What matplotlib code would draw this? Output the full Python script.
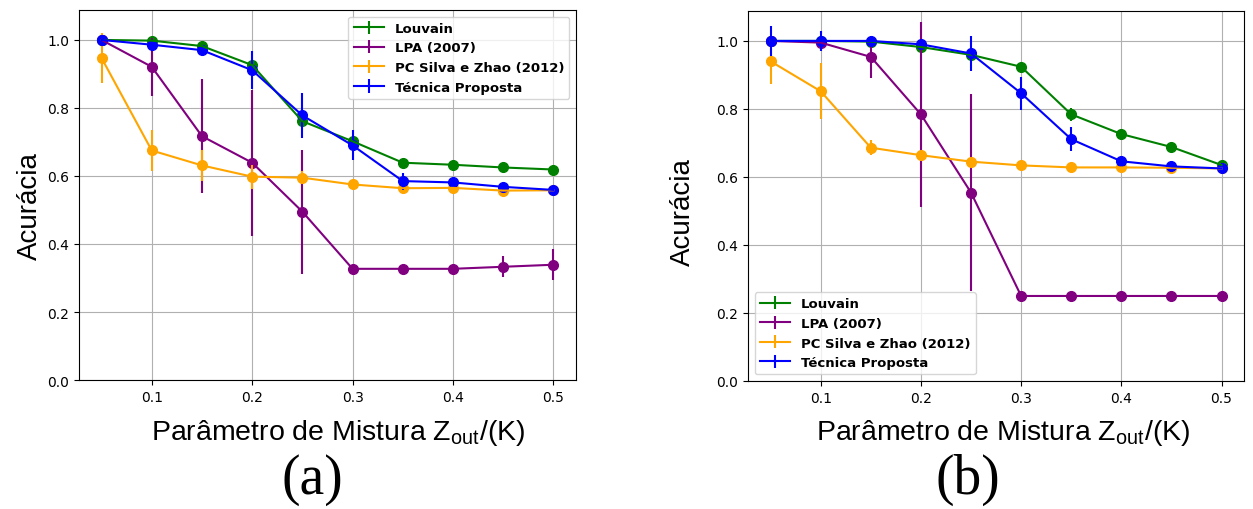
import numpy as np
import matplotlib
matplotlib.use("Agg")
import matplotlib.pyplot as plt

plt.rcParams['mathtext.fontset'] = 'custom'
plt.rcParams['mathtext.rm'] = 'Liberation Sans'

# Parâmetro de mistura
x = [0.05, 0.10, 0.15, 0.20, 0.25, 0.30, 0.35, 0.40, 0.45, 0.50]
xticks = [0.1, 0.2, 0.3, 0.4, 0.5]
yticks = [0.0, 0.2, 0.4, 0.6, 0.8, 1.0]

labels = ["Louvain", "LPA (2007)", "PC Silva e Zhao (2012)", "Técnica Proposta"]
colors = ["green", "purple", "orange", "blue"]

# (a)
louvain_a = [1.000, 0.998, 0.982, 0.926, 0.761, 0.702, 0.639, 0.633, 0.625, 0.619]
louvain_a_err = [0.005, 0.005, 0.008, 0.010, 0.015, 0.010, 0.005, 0.005, 0.005, 0.005]
lpa_a = [1.000, 0.921, 0.717, 0.639, 0.495, 0.327, 0.327, 0.327, 0.333, 0.339]
lpa_a_err = [0.010, 0.086, 0.168, 0.215, 0.182, 0.0, 0.0, 0.0, 0.031, 0.046]
pc_a = [0.947, 0.675, 0.631, 0.598, 0.595, 0.575, 0.564, 0.565, 0.557, 0.558]
pc_a_err = [0.073, 0.060, 0.045, 0.035, 0.020, 0.005, 0.005, 0.005, 0.005, 0.005]
tec_a = [1.000, 0.986, 0.970, 0.911, 0.778, 0.690, 0.585, 0.581, 0.568, 0.559]
tec_a_err = [0.005, 0.010, 0.010, 0.056, 0.067, 0.044, 0.025, 0.005, 0.005, 0.005]

# (b)
louvain_b = [1.000, 1.000, 0.998, 0.982, 0.959, 0.924, 0.784, 0.726, 0.688, 0.635]
louvain_b_err = [0.005, 0.005, 0.005, 0.008, 0.010, 0.010, 0.020, 0.015, 0.010, 0.010]
lpa_b = [1.000, 0.995, 0.953, 0.784, 0.554, 0.250, 0.250, 0.250, 0.250, 0.250]
lpa_b_err = [0.005, 0.010, 0.062, 0.273, 0.290, 0.0, 0.0, 0.0, 0.0, 0.0]
pc_b = [0.940, 0.852, 0.686, 0.664, 0.645, 0.634, 0.628, 0.628, 0.627, 0.625]
pc_b_err = [0.068, 0.082, 0.022, 0.010, 0.005, 0.005, 0.005, 0.005, 0.005, 0.005]
tec_b = [1.000, 1.000, 1.000, 0.990, 0.963, 0.846, 0.711, 0.646, 0.631, 0.625]
tec_b_err = [0.044, 0.030, 0.010, 0.010, 0.052, 0.049, 0.035, 0.005, 0.005, 0.005]

fig = plt.figure(figsize=(12.53, 5.10), dpi=100)
ax_a = fig.add_axes([0.0630, 0.2529, 0.3967, 0.7255])
ax_b = fig.add_axes([0.5970, 0.2510, 0.3959, 0.7255])


def painel(ax, series, errs, loc):
    for y, e, c, lab in zip(series, errs, colors, labels):
        ax.errorbar(x, y, yerr=e, color=c, label=lab, linewidth=1.5)
        ax.plot(x, y, 'o', color=c, markersize=7)
    ax.set_ylim(0, 1.088)
    ax.set_xticks(xticks)
    ax.set_yticks(yticks)
    ax.tick_params(labelsize=10)
    ax.grid(True)
    ax.legend(loc=loc, prop={'weight': 'bold', 'size': 9.5}, handlelength=2.3)


painel(ax_a, [louvain_a, lpa_a, pc_a, tec_a],
       [louvain_a_err, lpa_a_err, pc_a_err, tec_a_err], 'upper right')
painel(ax_b, [louvain_b, lpa_b, pc_b, tec_b],
       [louvain_b_err, lpa_b_err, pc_b_err, tec_b_err], 'lower left')

# Rótulos
xlab = r"Parâmetro de Mistura Z$_{\rm out}$/(K)"
for xc, yc, letra, xa in [(30, 206, "(a)", 312), (683, 212, "(b)", 968)]:
    fig.text(xc / 1253, 1 - yc / 510, "Acurácia", rotation=90, ha='center',
             va='center', fontsize=20, family='Liberation Sans')
    fig.text(xa / 1253, 1 - 480 / 510, letra, ha='center', va='center',
             fontsize=40, family='Liberation Serif')
fig.text(338 / 1253, 1 - 440 / 510, xlab, ha='center', va='baseline',
         fontsize=20.5, family='Liberation Sans')
fig.text(1003 / 1253, 1 - 440 / 510, xlab, ha='center', va='baseline',
         fontsize=20.5, family='Liberation Sans')

fig.savefig("out.png", dpi=100)
